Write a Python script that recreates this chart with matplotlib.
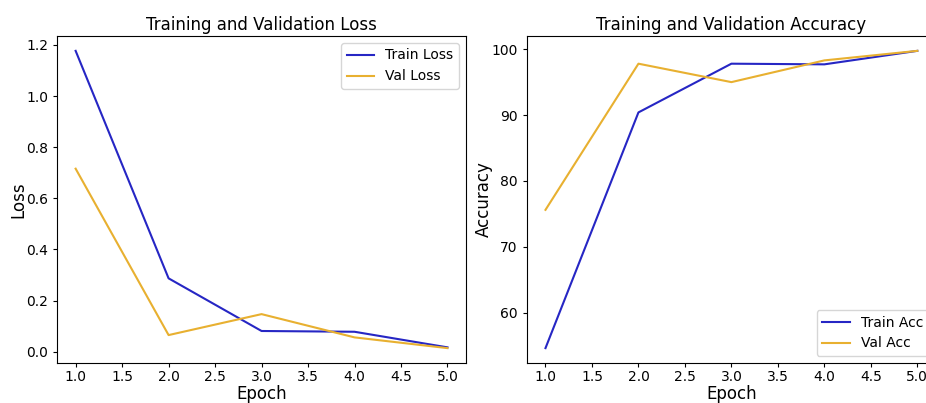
import matplotlib
matplotlib.use('Agg')
import matplotlib.pyplot as plt

epochs = [1, 2, 3, 4, 5]
train_loss = [1.177, 0.287, 0.081, 0.078, 0.017]
val_loss = [0.716, 0.065, 0.147, 0.056, 0.014]
train_acc = [54.6, 90.4, 97.8, 97.7, 99.75]
val_acc = [75.6, 97.8, 95.0, 98.3, 99.75]

blue = '#2626c4'
gold = '#e8b030'

fig = plt.figure(figsize=(9.26, 4.03), dpi=100)

# left panel: loss
ax1 = fig.add_axes([0.0616, 0.0993, 0.4417, 0.8114])
ax1.plot(epochs, train_loss, color=blue, label='Train Loss')
ax1.plot(epochs, val_loss, color=gold, label='Val Loss')
ax1.set_title('Training and Validation Loss', fontsize=12, pad=4)
ax1.set_xlabel('Epoch', fontsize=12, labelpad=1)
ax1.set_ylabel('Loss', fontsize=12, labelpad=-1)
ax1.legend(loc='upper right', fontsize=10)

# right panel: accuracy (runs past the right edge, as in the reference)
ax2 = fig.add_axes([0.569, 0.0993, 0.4417, 0.8114])
ax2.plot(epochs, train_acc, color=blue, label='Train Acc')
ax2.plot(epochs, val_acc, color=gold, label='Val Acc')
ax2.set_title('Training and Validation Accuracy', fontsize=12, pad=4)
ax2.set_xlabel('Epoch', fontsize=12, labelpad=1)
ax2.set_ylabel('Accuracy', fontsize=12, labelpad=-1)
ax2.legend(loc='lower right', fontsize=10)

for ax in (ax1, ax2):
    ax.tick_params(labelsize=10, length=3)
    ax.tick_params(axis='x', pad=2)

fig.savefig('out.png', dpi=100)
